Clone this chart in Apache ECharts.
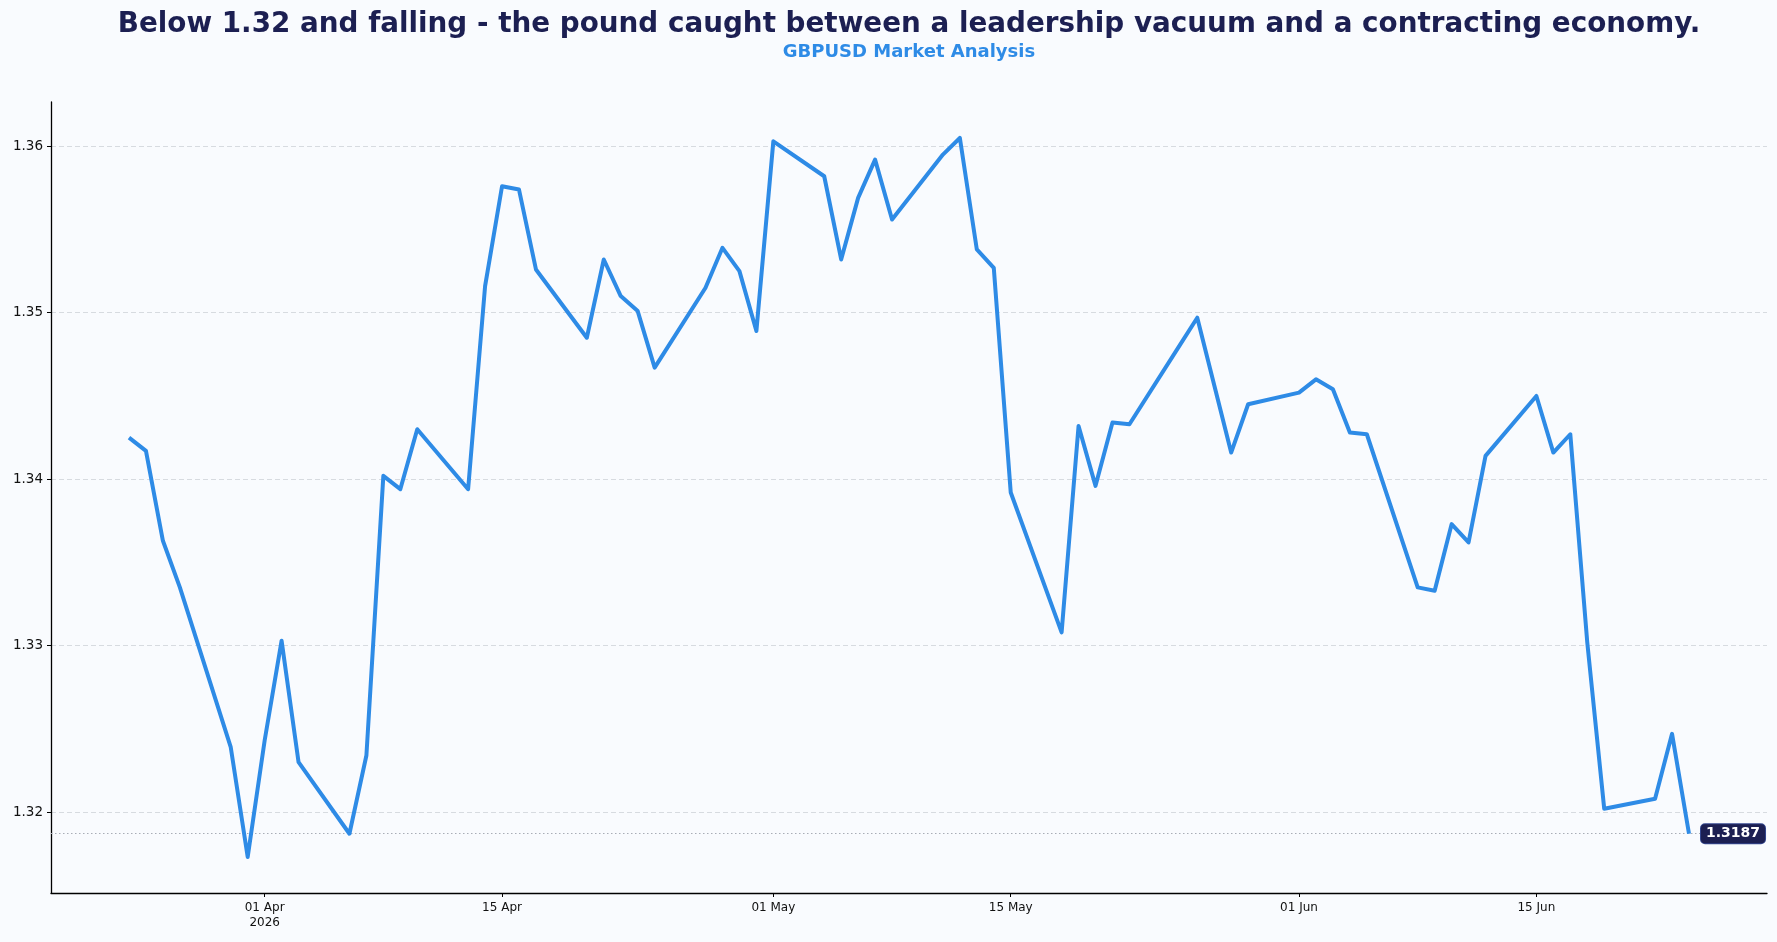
<!DOCTYPE html>
<html>
<head>
<meta charset="utf-8">
<script src="https://cdn.jsdelivr.net/npm/echarts@6/dist/echarts.min.js"></script>
<style>
  html, body { margin: 0; padding: 0; background: #F9FBFE; }
  #chart { width: 1777px; height: 942px; }
</style>
</head>
<body>
<div id="chart"></div>
<script>
// ---- Data ----
const titleText = 'Below 1.32 and falling - the pound caught between a leadership vacuum and a contracting economy.';
const subtitleText = 'GBPUSD Market Analysis';

const dates = [
  '2026-03-24','2026-03-25','2026-03-26','2026-03-27',
  '2026-03-30','2026-03-31','2026-04-01','2026-04-02','2026-04-03',
  '2026-04-06','2026-04-07','2026-04-08','2026-04-09','2026-04-10',
  '2026-04-13','2026-04-14','2026-04-15','2026-04-16','2026-04-17',
  '2026-04-20','2026-04-21','2026-04-22','2026-04-23','2026-04-24',
  '2026-04-27','2026-04-28','2026-04-29','2026-04-30','2026-05-01',
  '2026-05-04','2026-05-05','2026-05-06','2026-05-07','2026-05-08',
  '2026-05-11','2026-05-12','2026-05-13','2026-05-14','2026-05-15',
  '2026-05-18','2026-05-19','2026-05-20','2026-05-21','2026-05-22',
  '2026-05-25','2026-05-26','2026-05-28','2026-05-29',
  '2026-06-01','2026-06-02','2026-06-03','2026-06-04','2026-06-05',
  '2026-06-08','2026-06-09','2026-06-10','2026-06-11','2026-06-12',
  '2026-06-15','2026-06-16','2026-06-17','2026-06-18','2026-06-19',
  '2026-06-22','2026-06-23','2026-06-24'
];

const values = [
  1.3425, 1.3417, 1.3363, 1.3335,
  1.3239, 1.3173, 1.3243, 1.3303, 1.3230,
  1.3187, 1.3234, 1.3402, 1.3394, 1.3430,
  1.3394, 1.3516, 1.3576, 1.3574, 1.3526,
  1.3485, 1.3532, 1.3510, 1.3501, 1.3467,
  1.3515, 1.3539, 1.3525, 1.3489, 1.3603,
  1.3582, 1.3532, 1.3569, 1.3592, 1.3556,
  1.3595, 1.3605, 1.3538, 1.3527, 1.3392,
  1.3308, 1.3432, 1.3396, 1.3434, 1.3433,
  1.3481, 1.3497, 1.3416, 1.3445,
  1.3452, 1.3460, 1.3454, 1.3428, 1.3427,
  1.3335, 1.3333, 1.3373, 1.3362, 1.3414,
  1.3450, 1.3416, 1.3427, 1.3302, 1.3202,
  1.3208, 1.3247, 1.3187
];

const xTickDates = ['2026-04-01','2026-04-15','2026-05-01','2026-05-15','2026-06-01','2026-06-15'];
const xTickLabels = ['01 Apr\n2026','15 Apr','01 May','15 May','01 Jun','15 Jun'];
const yTicks = [1.32, 1.33, 1.34, 1.35, 1.36];
const yTickLabels = ['1.32','1.33','1.34','1.35','1.36'];

// ---- Helpers ----
function ts(s) {
  const p = s.split('-').map(Number);
  return Date.UTC(p[0], p[1] - 1, p[2]);
}
const seriesData = dates.map((d, i) => [ts(d), values[i]]);
const firstT = ts(dates[0]);
const lastT = ts(dates[dates.length - 1]);
const xPad = (lastT - firstT) * 0.05;
const yMinV = Math.min.apply(null, values), yMaxV = Math.max.apply(null, values);
const yPad = (yMaxV - yMinV) * 0.05;
const lastValue = values[values.length - 1];

const xTickTs = xTickDates.map(ts);
function xLabel(v) {
  let best = '', bd = Infinity;
  xTickTs.forEach((t, i) => { const d = Math.abs(t - v); if (d < bd) { bd = d; best = xTickLabels[i]; } });
  return bd < 3600000 ? best : '';
}
function yLabel(v) {
  let best = '', bd = Infinity;
  yTicks.forEach((t, i) => { const d = Math.abs(t - v); if (d < bd) { bd = d; best = yTickLabels[i]; } });
  return bd < 1e-6 ? best : '';
}

const FONT = 'DejaVu Sans';
const NAVY = '#1C1F52';
const BLUE = '#2E8BE6';

const chart = echarts.init(document.getElementById('chart'), null, { renderer: 'canvas' });
chart.setOption({
  backgroundColor: '#F9FBFE',
  animation: false,
  title: [
    {
      text: titleText,
      left: 904, top: 6, textAlign: 'center',
      textStyle: { fontFamily: FONT, fontSize: 27.8, fontWeight: 'bold', color: NAVY }
    },
    {
      text: subtitleText,
      left: 904, top: 38, textAlign: 'center',
      textStyle: { fontFamily: FONT, fontSize: 18, fontWeight: 'bold', color: BLUE }
    }
  ],
  grid: { left: 51, right: 10, top: 102, bottom: 49, containLabel: false },
  xAxis: {
    type: 'value',
    min: firstT - xPad,
    max: lastT + xPad,
    axisLine: { show: true, lineStyle: { color: '#000', width: 1.3 } },
    axisTick: { show: true, customValues: xTickTs, length: 4, lineStyle: { color: '#000', width: 1 } },
    axisLabel: {
      customValues: xTickTs,
      formatter: function (v) { return xLabel(v); },
      fontFamily: FONT, fontSize: 12, color: '#111', lineHeight: 15, margin: 7,
      hideOverlap: false
    },
    splitLine: { show: false }
  },
  yAxis: {
    type: 'value',
    min: +(yMinV - yPad).toFixed(5),
    max: +(yMaxV + yPad).toFixed(5),
    axisLine: { show: true, lineStyle: { color: '#000', width: 1.3 } },
    axisTick: { show: true, customValues: yTicks, length: 4, lineStyle: { color: '#000', width: 1 } },
    axisLabel: {
      customValues: yTicks,
      formatter: function (v) { return yLabel(v); },
      fontFamily: FONT, fontSize: 13.5, color: '#111', margin: 8
    },
    splitLine: { show: true, lineStyle: { color: '#D3D7DD', type: [5, 3], width: 0.9 } }
  },
  series: [
    {
      type: 'line',
      data: seriesData,
      showSymbol: false,
      symbol: 'none',
      lineStyle: { color: BLUE, width: 4, join: 'round' },
      itemStyle: { color: BLUE },
      z: 5,
      endLabel: {
        show: true,
        formatter: function (p) { return p.value[1].toFixed(4); },
        fontFamily: FONT, fontSize: 14, fontWeight: 'bold', color: '#FFFFFF',
        backgroundColor: NAVY, borderColor: '#34478F', borderWidth: 1,
        borderRadius: 4, padding: [3, 5, 2, 5], distance: 12
      },
      markLine: {
        silent: true,
        precision: 4,
        symbol: ['none', 'none'],
        label: { show: false },
        lineStyle: { color: '#A8ADB6', type: [1.5, 2.5], width: 1 },
        data: [{ yAxis: lastValue }],
        animation: false
      }
    }
  ]
});
</script>
</body>
</html>
